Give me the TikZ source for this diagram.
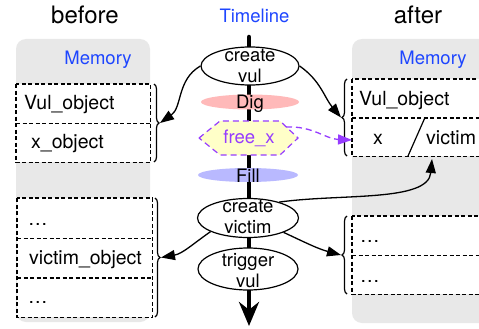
\documentclass[tikz,border=0pt]{standalone}
\usepackage{fontspec}
\setmainfont{TeX Gyre Heros}
\usetikzlibrary{arrows.meta,decorations.pathreplacing,shapes.geometric}
\definecolor{memblue}{RGB}{30,70,255}
\definecolor{panelgray}{RGB}{232,232,232}
\definecolor{digpink}{RGB}{255,185,185}
\definecolor{filllav}{RGB}{185,185,255}
\definecolor{hexyellow}{RGB}{255,255,200}
\definecolor{freepurple}{RGB}{150,60,255}
\begin{document}
\begin{tikzpicture}[x=1pt,y=1pt,
  title/.style={font=\fontsize{24}{28}\selectfont, anchor=base, inner sep=0},
  bluetxt/.style={font=\fontsize{18.5}{22}\selectfont, text=memblue, anchor=base, inner sep=0},
  lbl/.style={font=\fontsize{19.5}{23}\selectfont, anchor=base west, inner sep=0},
  evtxt/.style={font=\fontsize{18.5}{21}\selectfont, align=center, inner sep=0},
  panel/.style={fill=panelgray, rounded corners=10pt},
  memrow/.style={fill=white, inner sep=0, anchor=north west},
  dline/.style={line width=1.3pt, dash pattern=on 4pt off 2.5pt},
  membrace/.style={decorate, decoration={brace, amplitude=5pt}, line width=1.2pt},
  evt/.style={draw, fill=white, ellipse, line width=1.2pt, inner sep=0},
  flat/.style={ellipse, inner sep=0},
  conn/.style={line width=1.3pt, -{Triangle[length=14pt,width=10pt]}},
  pconn/.style={line width=1.3pt, draw=freepurple, dash pattern=on 6pt off 4pt, -{Triangle[length=14pt,width=10pt,fill=freepurple]}},
  tline/.style={line width=4.5pt, line cap=round, -{Stealth[length=24pt,width=20pt]}}
]
\clip (0,0) rectangle (479,-329);
\fill[white] (0,0) rectangle (479,-329);

% titles
\node[title] (tbefore) at (85,-24) {before};
\node[bluetxt] (ttime) at (254.5,-23) {Timeline};
\node[title] (tafter) at (418,-24) {after};

% memory panels
\fill[panel] (16,-39) rectangle (150,-322);
\fill[panel] (352,-39) rectangle (510,-323);
\node[bluetxt] (lmem) at (98,-64) {Memory};
\node[bluetxt] (rmem) at (433,-64) {Memory};

% left memory rows
\node[memrow, minimum width=134, minimum height=39] (L1a) at (16,-84) {};
\node[memrow, minimum width=134, minimum height=39] (L1b) at (16,-123) {};
\node[memrow, minimum width=135, minimum height=40] (L2a) at (17,-198) {};
\node[memrow, minimum width=135, minimum height=39.5] (L2b) at (17,-238) {};
\node[memrow, minimum width=135, minimum height=39.5] (L2c) at (17,-277.5) {};
\draw[dline] (L1a.north west) rectangle (L1b.south east);
\draw[dline] (L1a.south west) -- (L1a.south east);
\draw[dline] (L2a.north west) rectangle (L2c.south east);
\draw[dline] (L2a.south west) -- (L2a.south east);
\draw[dline] (L2b.south west) -- (L2b.south east);
\node[lbl] (tL1a) at (24,-109) {Vul\_object};
\node[lbl] (tL1b) at (31,-148) {x\_object};
\node[lbl] (tL2a) at (28,-225) {…};
\node[lbl] (tL2b) at (29,-264) {victim\_object};
\node[lbl] (tL2c) at (28,-303) {…};

% right memory rows
\node[memrow, minimum width=150, minimum height=38.5] (R1a) at (352,-79) {};
\node[memrow, minimum width=150, minimum height=38.5] (R1b) at (352,-117.5) {};
\node[memrow, minimum width=150, minimum height=39] (R2a) at (352,-216) {};
\node[memrow, minimum width=150, minimum height=39] (R2b) at (352,-255) {};
\draw[dline] (R1a.north west) rectangle (R1b.south east);
\draw[dline] (R1a.south west) -- (R1a.south east);
\draw[dline] (R2a.north west) rectangle (R2b.south east);
\draw[dline] (R2a.south west) -- (R2a.south east);
\node[lbl] (tR1a) at (359,-105) {Vul\_object};
\node[lbl] (tR1b) at (373,-144) {x};
\node[lbl] (tR1c) at (426,-144) {victim};
\node[lbl] (tR2a) at (360,-242) {…};
\node[lbl] (tR2b) at (360,-282) {…};
\draw[line width=1.2pt] (425,-117.5) -- (408,-156);

% braces
\draw[membrace] (154,-84) -- (154,-162);
\draw[membrace] (155,-198) -- (155,-317);
\draw[membrace] (347,-156) -- (347,-79);
\draw[membrace] (347,-294) -- (347,-216);
\coordinate (lb1) at (160,-123);
\coordinate (lb2) at (161,-257.5);
\coordinate (rb1) at (341,-117.5);
\coordinate (rb2) at (341,-255);

% timeline
\coordinate (tl0) at (249,-37);
\coordinate (tl1) at (249,-326);
\draw[tline] (tl0) -- (tl1);

% events
\node[evt, minimum width=98, minimum height=38] (cv) at (250,-66) {};
\node[evtxt] (tcv) at (250,-66) {create\\vul};
\node[flat, fill=digpink, minimum width=98, minimum height=15] (dig) at (250,-102) {};
\node[evtxt] (tdig) at (250,-103.3) {Dig};
\coordinate (hx1) at (199,-138);
\coordinate (hx2) at (220,-121);
\coordinate (hx3) at (280,-121);
\coordinate (hx4) at (298,-138);
\coordinate (hx5) at (280,-155);
\coordinate (hx6) at (220,-155);
\draw[fill=hexyellow, draw=freepurple, line width=1.2pt, dash pattern=on 6pt off 4pt] (hx1) -- (hx2) -- (hx3) -- (hx4) -- (hx5) -- (hx6) -- cycle;
\node[evtxt, text=freepurple] (freex) at (249,-138) {free\_x};
\coordinate (fxo) at (286,-127);
\node[flat, fill=filllav, minimum width=100, minimum height=14] (fill) at (248,-175) {};
\node[evtxt] (tfill) at (248,-175.4) {Fill};
\node[evt, minimum width=101, minimum height=39] (cvi) at (248,-218) {};
\node[evtxt] (tcvi) at (248,-216.5) {create\\victim};
\node[evt, minimum width=100, minimum height=42] (tv) at (248,-269) {};
\node[evtxt] (ttv) at (248,-271) {trigger\\vul};

% connectors
\draw[conn] (cv.west) to[out=210,in=35] (lb1);
\draw[conn] (cv.east) to[out=-35,in=130] (rb1);
\draw[pconn] (fxo) to[out=3,in=178] ([yshift=-3pt]R1b.west);
\draw[conn] (cvi.27) to[out=8,in=-95,in looseness=0.7] (432,-159);
\draw[conn] (cvi.200) to[out=215,in=10] (lb2);
\draw[conn] (cvi.-22) to[out=-25,in=165] (rb2);
\end{tikzpicture}
\end{document}
